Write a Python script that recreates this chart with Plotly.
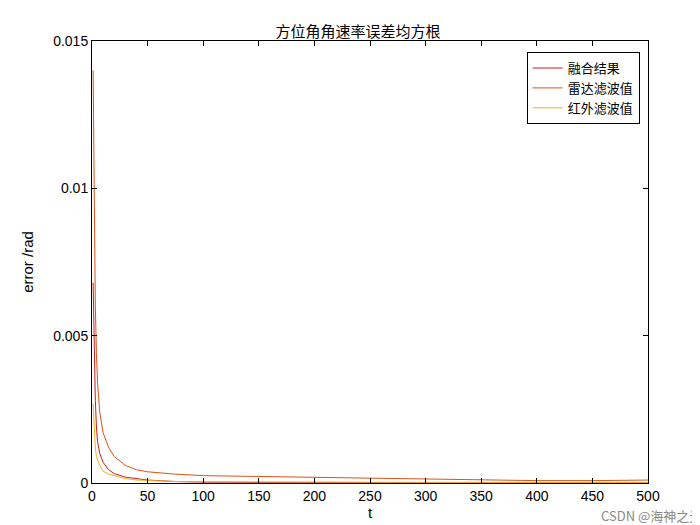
import plotly.graph_objects as go

t = [1, 2, 3, 4, 5, 7, 10, 15, 20, 30, 40, 50, 75, 100, 150, 200, 250, 300, 350, 400, 450, 500]
fusion = [0.0068, 0.0042, 0.0028, 0.0019, 0.0014, 0.0010, 0.0007, 0.00045, 0.00032, 0.0002, 0.00014, 0.0001,
          0.00005, 0.00003, 0.00002, 0.00002, 0.00001, 0.00001, 0.00001, 0.00001, 0.00001, 0.00001]
radar = [0.0140, 0.0090, 0.0060, 0.0044, 0.0034, 0.0024, 0.0017, 0.0012, 0.0009, 0.0006, 0.00045, 0.00038,
         0.0003, 0.00025, 0.00022, 0.0002, 0.00017, 0.00013, 0.0001, 0.00008, 0.00008, 0.0001]
infrared = [0.0027, 0.0018, 0.0012, 0.0009, 0.0008, 0.0006, 0.0004, 0.0003, 0.00025, 0.00015, 0.0001, 0.00008,
            0.00005, 0.00004, 0.00003, 0.00003, 0.00002, 0.00002, 0.00002, 0.00002, 0.00002, 0.00002]

names = ['融合结果', '雷达滤波值', '红外滤波值']
colors = ['#c81e1e', '#D95319', '#EDB120']

fig = go.Figure()
for name, ys, c in zip(names, [fusion, radar, infrared], colors):
    fig.add_trace(go.Scatter(x=t, y=ys, mode='lines', name=name, line=dict(color=c, width=1)))

axis = dict(showgrid=False, zeroline=False, showline=True, linecolor='black', mirror='ticks',
            ticks='inside', ticklen=5, tickcolor='black',
            tickfont=dict(family='Liberation Sans, Arial', size=14, color='black'))
fig.update_layout(
    width=700, height=525, plot_bgcolor='white', paper_bgcolor='white',
    margin=dict(l=84, r=60, t=33, b=50),
    font=dict(family='Noto Sans CJK SC, Arial', color='black'),
    title=dict(text='方位角角速率误差均方根', x=0.5, xanchor='center', y=0.965, font=dict(size=15)),
    xaxis=dict(axis, range=[0, 500], dtick=50,
               title=dict(text='t', font=dict(family='Liberation Sans, Arial', size=15), standoff=4)),
    yaxis=dict(axis, range=[0, 0.015], tickvals=[0, 0.005, 0.01, 0.015],
               ticktext=['0', '0.005', '0.01', '0.015'],
               title=dict(text='error /rad', font=dict(family='Liberation Sans, Arial', size=15))),
    showlegend=True,
    legend=dict(x=0.985, y=0.975, xanchor='right', yanchor='top', bordercolor='black', borderwidth=1,
                bgcolor='white', font=dict(size=13)),
)
fig.add_annotation(text='CSDN @海神之光', xref='paper', yref='paper', x=1.1, y=-0.1,
                   xanchor='right', showarrow=False, font=dict(size=13, color='#888888'))
fig.write_html("out.html")
